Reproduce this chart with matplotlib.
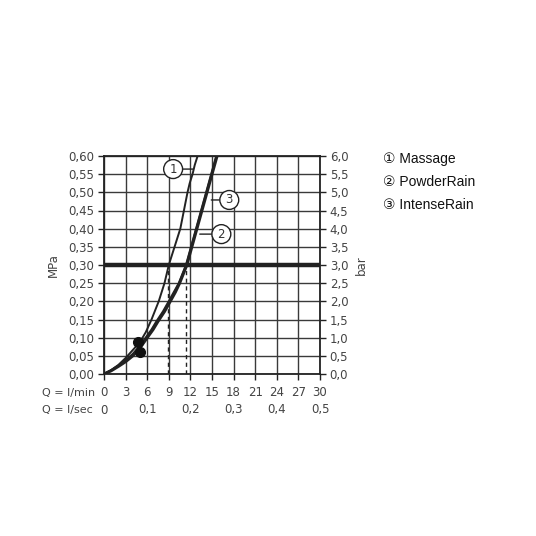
import matplotlib.pyplot as plt
import numpy as np

# flow (l/min) and pressure (MPa)
q_massage = [0, 1, 2, 3, 4, 5, 5.8, 6.6, 7.1, 7.6, 8.0, 8.4, 8.7, 9.0, 9.4, 9.8, 10.2, 10.6, 11.1, 11.6, 11.9, 12.3, 12.6, 13.0]
p_massage = [0, 0.011, 0.025, 0.044, 0.066, 0.088, 0.115, 0.15, 0.175, 0.20, 0.225, 0.25, 0.275, 0.30, 0.325, 0.35, 0.375, 0.40, 0.45, 0.50, 0.525, 0.55, 0.575, 0.60]

q_powder = [0, 1, 2, 3, 4, 5, 6.0, 6.8, 7.5, 8.4, 9.2, 9.9, 10.5, 11.0, 11.5, 12.2, 12.9, 13.6, 14.3, 15.0, 15.7]
p_powder = [0, 0.009, 0.021, 0.034, 0.05, 0.072, 0.10, 0.122, 0.145, 0.172, 0.20, 0.225, 0.25, 0.275, 0.30, 0.35, 0.40, 0.45, 0.50, 0.55, 0.60]

q_intense = [0, 1, 2, 3, 4, 5, 5.8, 6.6, 7.3, 8.2, 9.0, 9.7, 10.4, 10.9, 11.4, 12.1, 12.8, 13.5, 14.2, 14.9, 15.6]
p_intense = [0, 0.01, 0.023, 0.038, 0.055, 0.078, 0.10, 0.122, 0.145, 0.172, 0.20, 0.225, 0.25, 0.275, 0.30, 0.35, 0.40, 0.45, 0.50, 0.55, 0.60]

marker_q = [4.7, 5.0]
marker_p = [0.089, 0.061]

working_p = 0.30
working_q = [8.9, 11.4]

lmin_ticks = [0, 3, 6, 9, 12, 15, 18, 21, 24, 27, 30]
lsec_ticks = [0, 0.1, 0.2, 0.3, 0.4, 0.5]
mpa_ticks = [0, 0.05, 0.10, 0.15, 0.20, 0.25, 0.30, 0.35, 0.40, 0.45, 0.50, 0.55, 0.60]

legend_labels = ["\u2460 Massage", "\u2461 PowderRain", "\u2462 IntenseRain"]

plt.rcParams['font.family'] = ['DejaVu Sans']
tc = "#444444"

fig = plt.figure(figsize=(5.36, 5.36), dpi=100)
ax = fig.add_axes([104/536, 1 - 374/536, 216/536, 218/536])

ax.set_xlim(0, 30)
ax.set_ylim(0, 0.6)
ax.set_xticks(lmin_ticks)
ax.set_yticks(mpa_ticks)
ax.set_xticklabels([])
ax.set_yticklabels([("%.2f" % v).replace(".", ",") for v in mpa_ticks], fontsize=8.5, color=tc)
ax.grid(True, color="#3a3a3a", lw=1.0)
ax.set_axisbelow(True)
for s in ax.spines.values():
    s.set_color("#222222")
    s.set_linewidth(1.3)
ax.tick_params(axis="both", direction="out", length=4, color="#222222", width=1, pad=3)
ax.set_ylabel("MPa", fontsize=8.5, color=tc, labelpad=6)

ax2 = ax.twinx()
ax2.set_ylim(0, 6)
bar_ticks = np.array(mpa_ticks) * 10
ax2.set_yticks(bar_ticks)
ax2.set_yticklabels([("%.1f" % v).replace(".", ",") for v in bar_ticks], fontsize=8.5, color=tc)
ax2.tick_params(axis="y", direction="out", length=4, color="#222222", width=1, pad=3)
ax2.set_ylabel("bar", fontsize=8.5, color=tc, labelpad=5)
for s in ax2.spines.values():
    s.set_visible(False)

# working pressure line and dashed drops
ax.axhline(working_p, color="#222222", lw=3.2, zorder=3)
for q in working_q:
    ax.plot([q, q], [0, working_p], color="#222222", lw=1.0, ls=(0, (3, 2.5)), zorder=3)

ax.plot(q_massage, p_massage, color="#222222", lw=1.4, zorder=4)
ax.plot(q_intense, p_intense, color="#222222", lw=1.6, zorder=4)
ax.plot(q_powder, p_powder, color="#222222", lw=2.2, zorder=4)
ax.plot(marker_q, marker_p, ls="none", marker="o", ms=7, color="#111111", zorder=5)

# circled labels with leaders
labels = [("1", 9.6, 0.564, 12.4, 0.564), ("3", 17.4, 0.479, 14.9, 0.479), ("2", 16.3, 0.385, 13.3, 0.385)]
for txt, tx, ty, lx, ly in labels:
    ax.annotate(txt, xy=(lx, ly), xytext=(tx, ty), fontsize=8.5, color="#333333",
                ha="center", va="center", zorder=6,
                bbox=dict(boxstyle="circle,pad=0.25", fc="white", ec="#222222", lw=1.0),
                arrowprops=dict(arrowstyle="-", color="#222222", lw=1.0, shrinkA=0, shrinkB=0))

# two rows of flow labels under the axis
trans = ax.get_xaxis_transform()
y1 = -19 / 218
y2 = -36 / 218
for v in lmin_ticks:
    ax.text(v, y1, str(v), transform=trans, ha="center", va="center", fontsize=8.5, color=tc)
for v in lsec_ticks:
    lab = "0" if v == 0 else ("%.1f" % v).replace(".", ",")
    ax.text(v * 60, y2, lab, transform=trans, ha="center", va="center", fontsize=8.5, color=tc)
fig.text(42/536, 1 - 393/536, "Q = l/min", ha="left", va="center", fontsize=8, color=tc)
fig.text(42/536, 1 - 410/536, "Q = l/sec", ha="left", va="center", fontsize=8, color=tc)

for i, lab in enumerate(legend_labels):
    fig.text(383/536, 1 - (159 + 23 * i)/536, lab, fontsize=10, color="#111111",
             family=["Liberation Sans", "DejaVu Sans"], va="center", ha="left")

fig.savefig("out.png", dpi=100)
